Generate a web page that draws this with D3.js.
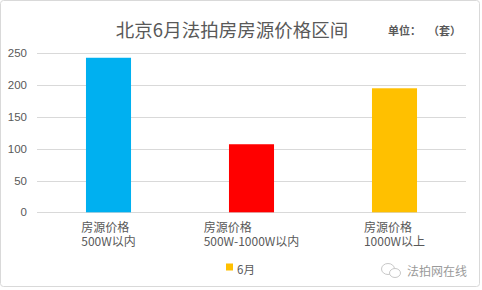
<!DOCTYPE html>
<html>
<head>
<meta charset="utf-8">
<script src="https://cdn.jsdelivr.net/npm/d3@7"></script>
<style>
  html, body { margin: 0; padding: 0; background: #fff; }
  svg { display: block; font-family: "Microsoft YaHei", "Noto Sans CJK SC", "Noto Sans", sans-serif; }
</style>
</head>
<body>
<svg id="chart" width="482" height="290"></svg>
<script>
// Price bands of court-auction listings in Beijing, June
const categories = [["房源价格", "500W以内"], ["房源价格", "500W-1000W以内"], ["房源价格", "1000W以上"]];
const values = [243, 107, 195];
const barColors = ["#00b0f0", "#ff0000", "#ffc000"];
const yTicks = [0, 50, 100, 150, 200, 250];
const seriesName = "6月";
const titleText = "北京6月法拍房房源价格区间";
const unitLabel = "单位：";
const unitValue = "（套）";
const sourceText = "法拍网在线";

const svg = d3.select("#chart");
const textColor = "#595959";

// outer frame
svg.append("rect")
  .attr("x", 0.5).attr("y", 0.5).attr("width", 479).attr("height", 286)
  .attr("rx", 3).attr("fill", "#fff").attr("stroke", "#d9d9d9");

const plot = { left: 37, right: 466, top: 53.3, bottom: 212.3 };

const x = d3.scaleBand()
  .domain(d3.range(categories.length))
  .range([plot.left, plot.right])
  .paddingInner(0.685).paddingOuter(0.3425);

const y = d3.scaleLinear().domain([0, 250]).range([plot.bottom, plot.top]);

// gridlines
svg.append("g").selectAll("line").data(yTicks).join("line")
  .attr("x1", plot.left).attr("x2", plot.right)
  .attr("y1", d => Math.round(y(d)) + 0.5).attr("y2", d => Math.round(y(d)) + 0.5)
  .attr("stroke", "#d9d9d9").attr("stroke-width", 1);

// y axis labels
const yAxis = d3.axisLeft(y).tickValues(yTicks).tickSize(0).tickPadding(0);
const gy = svg.append("g").attr("transform", `translate(27,0)`).call(yAxis);
gy.select(".domain").remove();
gy.selectAll("text").attr("fill", textColor).style("font-size", "11.5px")
  .style("font-family", "'Liberation Sans', Arial, sans-serif");

// bars
svg.append("g").selectAll("rect").data(values).join("rect")
  .attr("x", (d, i) => x(i))
  .attr("width", x.bandwidth())
  .attr("y", d => y(d))
  .attr("height", d => y(0) - y(d))
  .attr("fill", (d, i) => barColors[i]);

// category labels: lines left-aligned, block centred under the bar
const cat = svg.append("g").selectAll("g").data(categories).join("g");
cat.each(function(lines, i) {
  const g = d3.select(this);
  const texts = lines.map((ln, k) =>
    g.append("text").attr("x", 0).attr("y", 232 + k * 14)
      .attr("fill", textColor).style("font-size", "12px").text(ln));
  const w = d3.max(texts, t => t.node().getComputedTextLength());
  const cx = x(i) + x.bandwidth() / 2;
  g.attr("transform", `translate(${cx - w / 2},0)`);
});

// title
svg.append("text")
  .attr("x", 232).attr("y", 37).attr("text-anchor", "middle")
  .attr("fill", textColor).style("font-size", "18.5px")
  .text(titleText);

svg.append("text")
  .attr("x", 388).attr("y", 35)
  .attr("fill", textColor).style("font-size", "11px").style("font-weight", "bold")
  .text(unitLabel);
svg.append("text")
  .attr("x", 428).attr("y", 35)
  .attr("fill", textColor).style("font-size", "11px").style("font-weight", "bold")
  .text(unitValue);

// legend
svg.append("rect").attr("x", 226).attr("y", 263.5).attr("width", 7).attr("height", 7)
  .attr("fill", barColors[2]);
svg.append("text").attr("x", 237).attr("y", 274)
  .attr("fill", textColor).style("font-size", "11.5px").text(seriesName);

// source mark
const mark = svg.append("g").attr("fill", "none").attr("stroke", "#c8c8c8").attr("stroke-width", 1);
mark.append("ellipse").attr("cx", 388).attr("cy", 269).attr("rx", 6.5).attr("ry", 5.5);
mark.append("ellipse").attr("cx", 395).attr("cy", 273).attr("rx", 5.5).attr("ry", 4.5).attr("fill", "#fff");
svg.append("text").attr("x", 407).attr("y", 276)
  .attr("fill", "#9a9a9a").style("font-size", "12px").text(sourceText);
</script>
</body>
</html>
